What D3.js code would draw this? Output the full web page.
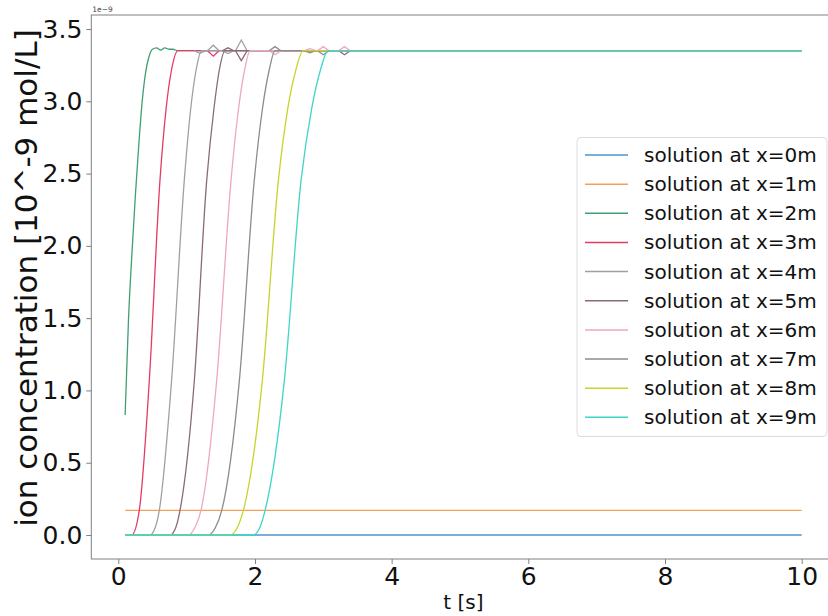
<!DOCTYPE html>
<html>
<head>
<meta charset="utf-8">
<script src="https://cdn.jsdelivr.net/npm/d3@7"></script>
<style>
  html, body { margin: 0; padding: 0; background: #fff; }
  svg { display: block; font-family: "DejaVu Sans", sans-serif; }
</style>
</head>
<body>
<svg id="chart" width="828" height="616"></svg>
<script>
// Ion concentration fronts passing the measuring points x = 0 .. 9 m.
// Each series is a list of [t (s), concentration (1e-9 mol/L)] readings.
const plateau = 3.35;
const x0 = [[0.1, 0], [10, 0]];
const x1 = [[0.1, 0.17], [10, 0.17]];
const x2 = [[0.1, 0.83], [0.15, 1.5], [0.2, 1.95], [0.25, 2.35], [0.3, 2.7], [0.35, 3.0], [0.4, 3.2],
            [0.45, 3.31], [0.5, 3.36], [0.56, 3.37], [0.62, 3.355], [0.68, 3.37], [0.74, 3.36],
            [0.8, 3.36], [0.87, 3.35], [10, 3.35]];
const x3 = [[0.1, 0], [0.196, 0], [0.307, 0.17], [0.454, 1.07], [0.61, 2.455], [0.70, 2.95],
            [0.78, 3.22], [0.874, 3.35], [10, 3.35]];
const x4 = [[0.1, 0], [0.46, 0], [0.54, 0.05], [0.60, 0.17], [0.78, 1.07], [0.966, 2.455],
            [1.06, 2.95], [1.14, 3.22], [1.22, 3.35], [10, 3.35]];
const x5 = [[0.1, 0], [0.757, 0], [0.84, 0.05], [0.903, 0.17], [1.113, 1.07], [1.294, 2.455],
            [1.40, 2.95], [1.48, 3.22], [1.562, 3.35], [10, 3.35]];
const x6 = [[0.1, 0], [1.02, 0], [1.12, 0.05], [1.21, 0.17], [1.44, 1.07], [1.65, 2.455],
            [1.76, 2.95], [1.85, 3.22], [1.93, 3.35], [10, 3.35]];
const x7 = [[0.1, 0], [1.313, 0], [1.42, 0.05], [1.514, 0.17], [1.772, 1.07], [1.99, 2.455],
            [2.11, 2.95], [2.21, 3.22], [2.294, 3.35], [10, 3.35]];
const x8 = [[0.1, 0], [1.636, 0], [1.74, 0.05], [1.83, 0.17], [2.108, 1.07], [2.343, 2.455],
            [2.48, 2.95], [2.60, 3.22], [2.704, 3.35], [10, 3.35]];
const x9 = [[0.1, 0], [1.972, 0], [2.07, 0.05], [2.148, 0.17], [2.43, 1.07], [2.675, 2.455],
            [2.83, 2.95], [2.96, 3.22], [3.07, 3.35], [10, 3.35]];
const seriesData = [x0, x1, x2, x3, x4, x5, x6, x7, x8, x9];

// Numerical over/undershoots on the plateau: [series, t, deviation]
const spikes = [
  [4, 1.196, -0.018],
  [4, 1.39, 0.038], [3, 1.39, -0.038],
  [5, 1.606, 0.02], [4, 1.606, -0.02],
  [4, 1.80, 0.074], [5, 1.80, -0.069],
  [7, 2.294, 0.028], [6, 2.294, -0.028],
  [6, 2.805, 0.014], [7, 2.805, -0.014],
  [6, 3.0, 0.028], [7, 3.0, -0.028],
  [6, 3.31, 0.028], [5, 3.31, -0.028]
];
const spikeHalfWidth = 0.085;

const legendLabels = d3.range(10).map(i => `solution at x=${i}m`);
const xTicks = [0, 2, 4, 6, 8, 10];
const yTicks = [0, 0.5, 1, 1.5, 2, 2.5, 3, 3.5];

const palette = ["#4f94c8", "#f5a05a", "#3f9f72", "#e33b65", "#a0a0a0",
                 "#8a6a7a", "#f0a6c0", "#8c8c8c", "#c8d42c", "#3ed6c6"];

const svg = d3.select("#chart");
const plot = { left: 91.3, right: 835.5, top: 15, bottom: 559 };

const x = d3.scaleLinear().domain([-0.395, 10.495]).range([plot.left, plot.right]);
const y = d3.scaleLinear().domain([-0.166, 3.597]).range([plot.bottom, plot.top]);

const line = d3.line().x(d => x(d[0])).y(d => y(d[1])).curve(d3.curveMonotoneX);
const spikeLine = d3.line().x(d => x(d[0])).y(d => y(d[1]));

// series, drawn in order so later fronts sit on top
seriesData.forEach((data, i) => {
  const g = svg.append("g");
  g.append("path")
    .attr("d", line(data))
    .attr("fill", "none")
    .attr("stroke", palette[i])
    .attr("stroke-width", 1.3);
  spikes.filter(s => s[0] === i).forEach(s => {
    const pts = [[s[1] - spikeHalfWidth, plateau], [s[1], plateau + s[2]], [s[1] + spikeHalfWidth, plateau]];
    g.append("path")
      .attr("d", spikeLine(pts))
      .attr("fill", "none")
      .attr("stroke", palette[i])
      .attr("stroke-width", 1.3);
  });
});

// frame
const spine = "#808080";
svg.append("rect")
  .attr("x", plot.left).attr("y", plot.top)
  .attr("width", plot.right - plot.left).attr("height", plot.bottom - plot.top)
  .attr("fill", "none").attr("stroke", spine).attr("stroke-width", 1);

// axes
const xAxis = svg.append("g")
  .attr("transform", `translate(0,${plot.bottom})`)
  .call(d3.axisBottom(x).tickValues(xTicks).tickFormat(d3.format("d")).tickSize(5).tickPadding(3));
const yAxis = svg.append("g")
  .attr("transform", `translate(${plot.left},0)`)
  .call(d3.axisLeft(y).tickValues(yTicks).tickFormat(d3.format(".1f")).tickSize(5).tickPadding(4));
[xAxis, yAxis].forEach(a => {
  a.select(".domain").remove();
  a.selectAll(".tick line").attr("stroke", spine);
  a.selectAll(".tick text")
    .attr("fill", "#111")
    .style("font-family", "DejaVu Sans, sans-serif")
    .style("font-size", "25px");
});

// axis labels
svg.append("text")
  .attr("transform", `translate(37,${(plot.top + plot.bottom) / 2 - 9}) rotate(-90)`)
  .attr("text-anchor", "middle")
  .attr("fill", "#111")
  .style("font-size", "31px")
  .text("ion concentration [10^-9 mol/L]");

svg.append("text")
  .attr("x", (plot.left + plot.right) / 2)
  .attr("y", 609)
  .attr("text-anchor", "middle")
  .attr("fill", "#111")
  .style("font-size", "20px")
  .text("t [s]");

// scale offset text
svg.append("text")
  .attr("x", plot.left + 1)
  .attr("y", 12)
  .attr("fill", "#444")
  .style("font-size", "7.5px")
  .text("1e\u22129");

// legend
const legend = svg.append("g");
legend.append("rect")
  .attr("x", 577).attr("y", 137.5)
  .attr("width", 250).attr("height", 299)
  .attr("rx", 4)
  .attr("fill", "#fff").attr("fill-opacity", 0.8)
  .attr("stroke", "#dcdcdc").attr("stroke-width", 1);
legendLabels.forEach((label, i) => {
  const cy = 155 + i * 29.15;
  legend.append("line")
    .attr("x1", 585).attr("x2", 628)
    .attr("y1", cy).attr("y2", cy)
    .attr("stroke", palette[i]).attr("stroke-width", 1.5);
  legend.append("text")
    .attr("x", 644).attr("y", cy)
    .attr("dy", "0.35em")
    .attr("fill", "#111")
    .style("font-size", "20px")
    .text(label);
});
</script>
</body>
</html>
